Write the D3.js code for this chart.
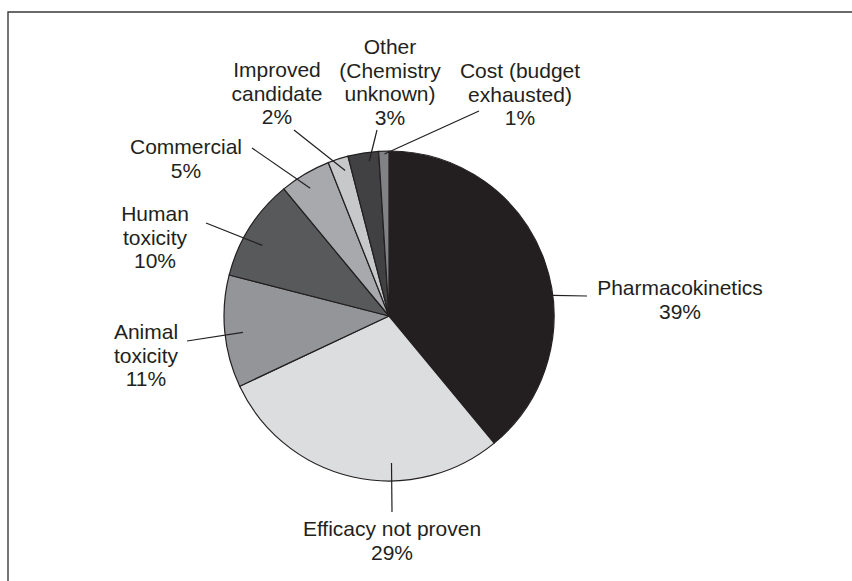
<!DOCTYPE html>
<html>
<head>
<meta charset="utf-8">
<script src="https://cdn.jsdelivr.net/npm/d3@7"></script>
<style>
  body { margin: 0; background: #fff; }
  text { font-family: "Liberation Sans", Arial, sans-serif; }
</style>
</head>
<body>
<svg id="svgContenedor" width="852" height="581"></svg>
<script>
// data
var categories = [
    ["Pharmacokinetics"],
    ["Efficacy not proven"],
    ["Animal", "toxicity"],
    ["Human", "toxicity"],
    ["Commercial"],
    ["Improved", "candidate"],
    ["Other", "(Chemistry", "unknown)"],
    ["Cost (budget", "exhausted)"]
];
var values = [39, 29, 11, 10, 5, 2, 3, 1];
var colors = ["#231f20", "#dcdddf", "#939598", "#58595b", "#a7a9ac", "#c7c8ca", "#414042", "#808285"];

// label layout: text anchor, leader outer end, leader inner point (fraction of slice, radius)
var labelPos = [
    { x: 680, y: 295, ex: 587, ey: 296, frac: 0.59, r: 165 },
    { x: 392, y: 536, ex: 392, ey: 512, frac: 0.37, r: 147 },
    { x: 146, y: 339, ex: 187, ey: 341, frac: 0.475, r: 147 },
    { x: 155, y: 221, ex: 206, ey: 223, frac: 0.41, r: 145 },
    { x: 186, y: 154, ex: 252, ey: 148, frac: 0.44, r: 150 },
    { x: 277, y: 77, ex: 294, ey: 130, frac: 0.67, r: 152 },
    { x: 390, y: 54, ex: 377, ey: 130, frac: 0.66, r: 156 },
    { x: 520, y: 78, ex: 479, ey: 111, frac: 0.55, r: 162 }
];

var cx = 389, cy = 316, radius = 165;
var lineH = 23.7;

var svg = d3.select("#svgContenedor");

// frame (top and left only)
svg.append("path")
    .attr("d", "M8,581 L8,12 L852,12")
    .attr("fill", "none")
    .attr("stroke", "#3a3a3a")
    .attr("stroke-width", 1.4);

var pie = d3.pie().sort(null).value(function (d) { return d; });
var arcs = pie(values);
var arc = d3.arc().innerRadius(0).outerRadius(radius);

var g = svg.append("g").attr("transform", "translate(" + cx + "," + cy + ")");
g.selectAll("path")
    .data(arcs)
    .enter().append("path")
    .attr("d", arc)
    .attr("fill", function (d, i) { return colors[i]; })
    .attr("stroke", "#231f20")
    .attr("stroke-width", 1.2)
    .attr("stroke-linejoin", "round");

// leader lines
svg.selectAll("line.leader")
    .data(arcs)
    .enter().append("line")
    .attr("class", "leader")
    .attr("x1", function (d, i) { return labelPos[i].ex; })
    .attr("y1", function (d, i) { return labelPos[i].ey; })
    .attr("x2", function (d, i) {
        var p = labelPos[i];
        var a = d.startAngle + p.frac * (d.endAngle - d.startAngle);
        return cx + p.r * Math.sin(a);
    })
    .attr("y2", function (d, i) {
        var p = labelPos[i];
        var a = d.startAngle + p.frac * (d.endAngle - d.startAngle);
        return cy - p.r * Math.cos(a);
    })
    .attr("stroke", "#231f20")
    .attr("stroke-width", 1.2);

// labels
var labels = svg.selectAll("text.lbl")
    .data(arcs)
    .enter().append("text")
    .attr("class", "lbl")
    .attr("text-anchor", "middle")
    .attr("font-size", "21px")
    .attr("fill", "#231f20");

labels.each(function (d, i) {
    var t = d3.select(this);
    var lines = categories[i].concat([values[i] + "%"]);
    lines.forEach(function (s, k) {
        t.append("tspan")
            .attr("x", labelPos[i].x)
            .attr("y", labelPos[i].y + k * lineH)
            .text(s);
    });
});
</script>
</body>
</html>
